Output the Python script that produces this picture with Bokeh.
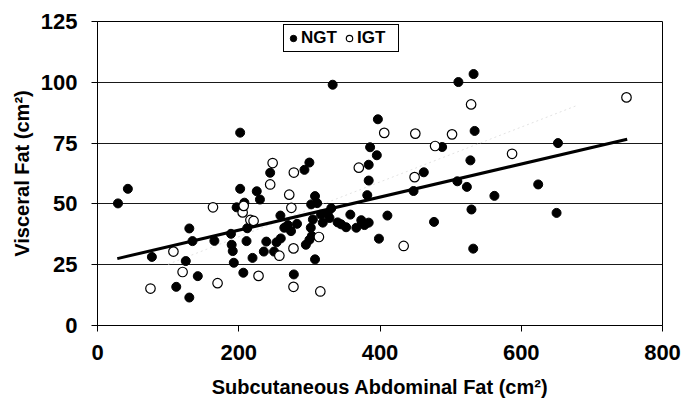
from bokeh.plotting import figure
from bokeh.models import Range1d, FixedTicker, Legend, LegendItem
from bokeh.embed import file_html
from bokeh.resources import INLINE

# ---- data ----
NGT_X = [29, 43, 77, 111.5, 125, 130, 134.5, 130, 142, 165.5, 189, 191.5, 193, 190,
         202, 202, 197, 208, 206.5, 211, 212, 219.5, 225.5, 230, 235.5, 239, 244.5,
         250, 253.5, 259, 259.5, 264.5, 269.5, 274, 278, 282.5, 293, 300, 295, 300,
         303.5, 302, 305, 302.5, 308, 311, 308, 316.5, 319, 326, 328.5, 331, 340,
         333, 345, 352, 358, 366.5, 373.5, 378, 384, 382, 384, 384, 386, 395.5, 397,
         398.5, 410.5, 447.5, 462, 476.5, 488, 509.5, 511, 523, 528, 529.5, 532,
         532.5, 534, 562, 624, 650, 652]
NGT_Y = [50.2, 56.2, 28.2, 15.9, 26.5, 39.9, 34.7, 11.5, 20.3, 34.8, 37.7, 30.6, 25.8, 33.2,
         79.3, 56.2, 48.6, 50.5, 21.7, 34.7, 40, 27.8, 55.2, 51.8, 30.4, 34.5, 62.8,
         30.4, 34.2, 45.2, 35.8, 40.2, 41.3, 38.8, 21, 41.8, 64, 67, 33.2, 35.2,
         36.8, 40.2, 43.6, 49.8, 53.2, 50.3, 27.2, 45.6, 42.3, 46, 44.2, 48.2, 42.4,
         99, 41.6, 40.4, 45.6, 40.2, 43.3, 41.3, 42.3, 53.6, 59.6, 66.1, 73.3, 70, 84.8,
         35.7, 45.2, 55.3, 63, 42.6, 73.4, 59.3, 100.1, 57, 67.9, 47.7, 31.6,
         103.4, 80, 53.3, 58, 46.3, 75]

IGT_X = [75, 107.5, 120.5, 163.5, 170, 205.5, 207, 216.5, 221, 228, 244.5, 248, 257.5,
         271.5, 274.5, 278, 277.5, 277.5, 313.5, 315.5, 370, 406, 433.5, 449, 450, 478,
         502, 529, 587, 749]
IGT_Y = [15.2, 30.4, 22, 48.6, 17.4, 46.5, 49.2, 43.4, 43, 20.4, 58, 66.8, 28.7,
         53.8, 48.4, 62.9, 31.7, 15.9, 36.4, 14, 64.9, 79.2, 32.7, 61, 78.9, 73.8,
         78.6, 90.9, 70.6, 93.8]

TREND_X = [28, 750]
TREND_Y = [27.5, 76.6]

IGT_FIT_X = [100, 680]
IGT_FIT_Y = [25.2, 90.6]

X_TICKS = [0, 200, 400, 600, 800]
Y_TICKS = [0, 25, 50, 75, 100, 125]

FONT = "Liberation Sans"

p = figure(width=683, height=400, output_backend="svg", toolbar_location=None,
           x_range=Range1d(0, 800), y_range=Range1d(0, 125),
           min_border_left=97, min_border_right=21, min_border_top=21, min_border_bottom=75)

p.background_fill_color = "white"
p.border_fill_color = "white"
p.outline_line_color = "black"
p.outline_line_width = 1
p.outline_line_alpha = 1

p.xgrid.visible = False
p.ygrid.ticker = FixedTicker(ticks=Y_TICKS)
p.ygrid.grid_line_color = "black"
p.ygrid.grid_line_width = 1
p.ygrid.grid_line_alpha = 0.9

p.xaxis.ticker = FixedTicker(ticks=X_TICKS)
p.yaxis.ticker = FixedTicker(ticks=Y_TICKS)
for ax in (p.xaxis[0], p.yaxis[0]):
    ax.axis_line_color = "black"
    ax.axis_line_width = 1
    ax.major_tick_in = 0
    ax.major_tick_out = 6
    ax.major_tick_line_color = "black"
    ax.minor_tick_line_color = None
    ax.major_label_text_font = FONT
    ax.major_label_text_font_style = "bold"
    ax.major_label_text_font_size = "22px"
    ax.major_label_text_color = "black"
    ax.axis_label_text_font = FONT
    ax.axis_label_text_font_style = "bold"
    ax.axis_label_text_font_size = "20px"
    ax.axis_label_text_color = "black"

p.xaxis.axis_label = "Subcutaneous Abdominal Fat (cm²)"
p.yaxis.axis_label = "Visceral Fat (cm²)"
p.xaxis.major_label_standoff = 13
p.yaxis.major_label_standoff = 14
p.xaxis.axis_label_standoff = 13
p.yaxis.axis_label_standoff = 5

p.line(IGT_FIT_X, IGT_FIT_Y, line_color="#e2e2e2", line_width=1, line_dash="2 3")

r_ngt = p.scatter(NGT_X, NGT_Y, marker="circle", size=9,
                  fill_color="black", line_color="black", line_width=1)
r_igt = p.scatter(IGT_X, IGT_Y, marker="circle", size=9.5,
                  fill_color="white", line_color="black", line_width=1.2)
p.line(TREND_X, TREND_Y, line_color="black", line_width=3)

legend = Legend(items=[LegendItem(label="NGT", renderers=[r_ngt]),
                       LegendItem(label="IGT", renderers=[r_igt])],
                orientation="horizontal", location=(186, 273),
                border_line_color="black", border_line_width=1, border_line_alpha=1,
                background_fill_color="white", background_fill_alpha=1,
                padding=1, margin=0, spacing=0, glyph_width=16, glyph_height=24,
                label_standoff=0, label_width=40,
                label_text_font=FONT, label_text_font_style="bold",
                label_text_font_size="17px", label_text_color="black")
p.add_layout(legend)

open("out.html", "w").write(file_html(p, INLINE))
